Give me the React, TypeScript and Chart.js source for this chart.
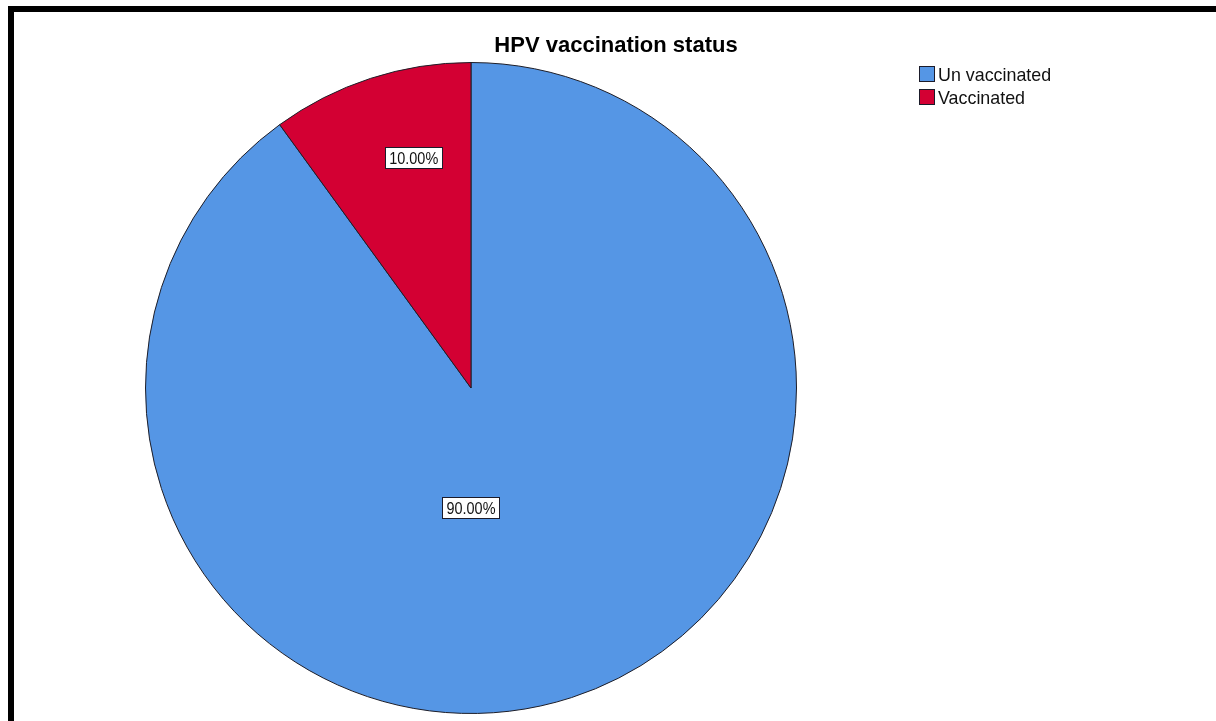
import React, { useEffect, useRef } from "react";
import { Chart, registerables } from "chart.js";

Chart.register(...registerables);

const categories = ["Un vaccinated", "Vaccinated"];
const percentValues = [90, 10];
const percentLabels = ["90.00%", "10.00%"];
const sliceColors = ["#5596E5", "#D30033"];
const chartTitle = "HPV vaccination status";

const W = 1216;
const H = 721;

const framePlugin = {
  id: "framePlugin",
  beforeDraw(chart: any) {
    const ctx = chart.ctx;
    ctx.save();
    ctx.fillStyle = "#ffffff";
    ctx.fillRect(0, 0, W, H);
    ctx.fillStyle = "#000000";
    ctx.fillRect(8, 6, W - 8, 6);
    ctx.fillRect(8, 6, 6, H - 6);
    ctx.restore();
  },
};

const titlePlugin = {
  id: "titlePlugin",
  afterDraw(chart: any) {
    const ctx = chart.ctx;
    ctx.save();
    ctx.font = "bold 22px 'Liberation Sans', Arial, sans-serif";
    ctx.fillStyle = "#000000";
    ctx.textAlign = "center";
    ctx.textBaseline = "alphabetic";
    ctx.fillText(chartTitle, 616, 52);
    ctx.restore();
  },
};

const legendPlugin = {
  id: "legendPlugin",
  afterDraw(chart: any) {
    const ctx = chart.ctx;
    const ds = chart.data.datasets[0];
    ctx.save();
    chart.data.labels.forEach((lab: string, i: number) => {
      const top = 66 + i * 23;
      ctx.fillStyle = ds.backgroundColor[i];
      ctx.fillRect(919, top, 16, 16);
      ctx.strokeStyle = "#1b1b2a";
      ctx.lineWidth = 1;
      ctx.strokeRect(919.5, top + 0.5, 15, 15);
      ctx.save();
      ctx.translate(938, top + 15);
      ctx.scale(0.94, 1);
      ctx.font = "19px 'Liberation Sans', Arial, sans-serif";
      ctx.fillStyle = "#111111";
      ctx.textAlign = "left";
      ctx.textBaseline = "alphabetic";
      ctx.fillText(lab, 0, 0);
      ctx.restore();
    });
    ctx.restore();
  },
};

const labelPlacement = [
  { frac: 0.368, shift: 18 },
  { frac: 0.727, shift: 4 },
];

const sliceLabelPlugin = {
  id: "sliceLabelPlugin",
  afterDatasetsDraw(chart: any) {
    const ctx = chart.ctx;
    const meta = chart.getDatasetMeta(0);
    ctx.save();
    meta.data.forEach((arc: any, i: number) => {
      const p = arc.getProps(["x", "y", "startAngle", "endAngle", "outerRadius"], true);
      const place = labelPlacement[i];
      const mid = (p.startAngle + p.endAngle) / 2 + (place.shift * Math.PI) / 180;
      const r = p.outerRadius * place.frac;
      const cx = p.x + Math.cos(mid) * r;
      const cy = p.y + Math.sin(mid) * r;
      const text = percentLabels[i];
      ctx.font = "17px 'Liberation Sans', Arial, sans-serif";
      const tw = ctx.measureText(text).width * 0.85;
      const bw = Math.round(tw + 9);
      const bh = 22;
      const bx = Math.round(cx - bw / 2);
      const by = Math.round(cy - bh / 2);
      ctx.fillStyle = "#ffffff";
      ctx.fillRect(bx, by, bw, bh);
      ctx.strokeStyle = "#1b1b2a";
      ctx.lineWidth = 1;
      ctx.strokeRect(bx + 0.5, by + 0.5, bw - 1, bh - 1);
      ctx.save();
      ctx.translate(cx, by + 17);
      ctx.scale(0.85, 1);
      ctx.fillStyle = "#111111";
      ctx.textAlign = "center";
      ctx.textBaseline = "alphabetic";
      ctx.fillText(text, 0, 0);
      ctx.restore();
    });
    ctx.restore();
  },
};

export default function App() {
  const ref = useRef<HTMLCanvasElement | null>(null);
  useEffect(() => {
    if (!ref.current) return;
    const chart = new Chart(ref.current, {
      type: "pie",
      data: {
        labels: categories,
        datasets: [
          {
            data: percentValues,
            backgroundColor: sliceColors,
            borderColor: "#1e1e28",
            borderWidth: 1,
          },
        ],
      },
      options: {
        responsive: false,
        animation: false,
        devicePixelRatio: 1,
        rotation: 0,
        layout: { padding: { left: 145, right: 419, top: 62, bottom: 7 } },
        plugins: {
          legend: { display: false },
          title: { display: false },
          tooltip: { enabled: false },
        },
      } as any,
      plugins: [framePlugin, titlePlugin, legendPlugin, sliceLabelPlugin],
    });
    return () => chart.destroy();
  }, []);
  return (
    <div style={{ position: "absolute", left: 0, top: 0, width: W, height: H, background: "#fff" }}>
      <canvas ref={ref} width={W} height={H} style={{ width: W, height: H, display: "block" }} />
    </div>
  );
}
